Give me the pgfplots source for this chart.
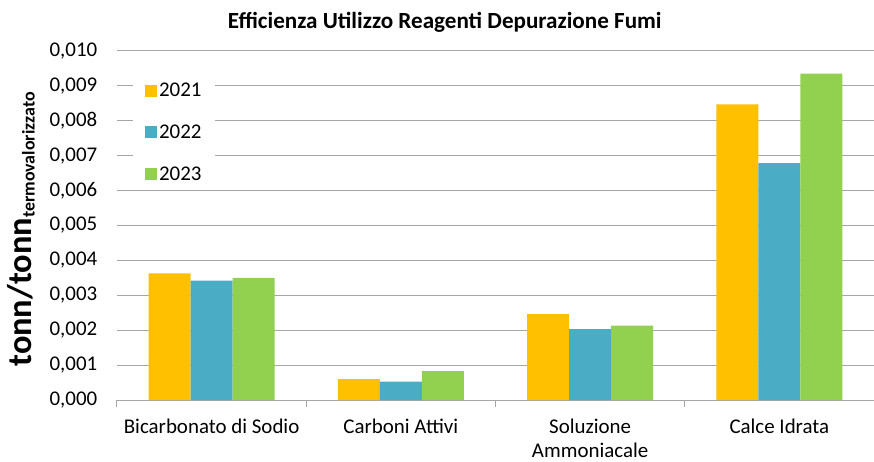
\documentclass[border=0pt]{standalone}
\usepackage{fontspec}
\setmainfont{Carlito}
\usepackage{pgfplots}
\pgfplotsset{compat=1.18}
\definecolor{c21}{HTML}{FFC000}
\definecolor{c22}{HTML}{4BACC6}
\definecolor{c23}{HTML}{92D050}
\definecolor{gridc}{HTML}{A6A6A6}
\pgfplotsset{myleg/.style={legend image code/.code={\fill[##1] (0bp,-6bp) rectangle (12bp,6bp);}}}
\begin{document}
\begin{tikzpicture}
\begin{axis}[name=ax, scale only axis, width=757bp, height=349bp,
  ybar=0pt, bar width=42bp,
  xmin=-0.5, xmax=3.5, ymin=0, ymax=0.010,
  xtick={0,1,2,3},
  xticklabels={Bicarbonato di Sodio, Carboni Attivi, Soluzione\\Ammoniacale, Calce Idrata},
  xticklabel style={align=center, font=\fontsize{21}{24}\selectfont, yshift=-11bp},
  minor xtick={-0.5,0.5,1.5,2.5,3.5},
  major x tick style={draw=none},
  minor x tick style={gridc, line width=1bp},
  minor tick length=7bp,
  tick align=outside,
  axis x line*=bottom, axis y line*=left,
  x axis line style={gridc, line width=1bp, -},
  y axis line style={draw=none},
  ytick={0,0.001,0.002,0.003,0.004,0.005,0.006,0.007,0.008,0.009,0.010},
  ymajorgrids, grid style={gridc, line width=1bp},
  major y tick style={draw=none},
  scaled y ticks=false,
  yticklabel style={font=\fontsize{21}{24}\selectfont, xshift=-12bp,
    /pgf/number format/.cd, fixed, fixed zerofill, precision=3, use comma, assume math mode=true},
  ylabel={\bfseries\fontsize{34.5}{40}\selectfont tonn/tonn\raisebox{-3bp}{\fontsize{18}{20}\selectfont termovalorizzato}},
  ylabel style={at={(-0.1127,0.489)}, anchor=base},
  title={\bfseries Efficienza Utilizzo Reagenti Depurazione Fumi},
  title style={font=\fontsize{23.2}{27}\selectfont, at={(0.433,1)}, anchor=base, yshift=17bp},
  legend style={at={(0.021,0.925)}, anchor=north west, draw=none, fill=white,
    font=\fontsize{21}{24}\selectfont, row sep=22.5bp, inner xsep=12bp, inner ysep=4bp},
  legend cell align=left,
]
\addplot[fill=c21, draw=none, myleg] coordinates {(0,0.00363) (1,0.00060) (2,0.00246) (3,0.00847)};
\addplot[fill=c22, draw=none, myleg] coordinates {(0,0.00342) (1,0.00053) (2,0.00203) (3,0.00679)};
\addplot[fill=c23, draw=none, myleg] coordinates {(0,0.00350) (1,0.00083) (2,0.00213) (3,0.00935)};
\legend{2021,2022,2023}
\end{axis}
\pgfresetboundingbox
\path ([shift={(-117bp,-62bp)}]ax.south west) rectangle ++(874bp,462bp);
\end{tikzpicture}
\end{document}
